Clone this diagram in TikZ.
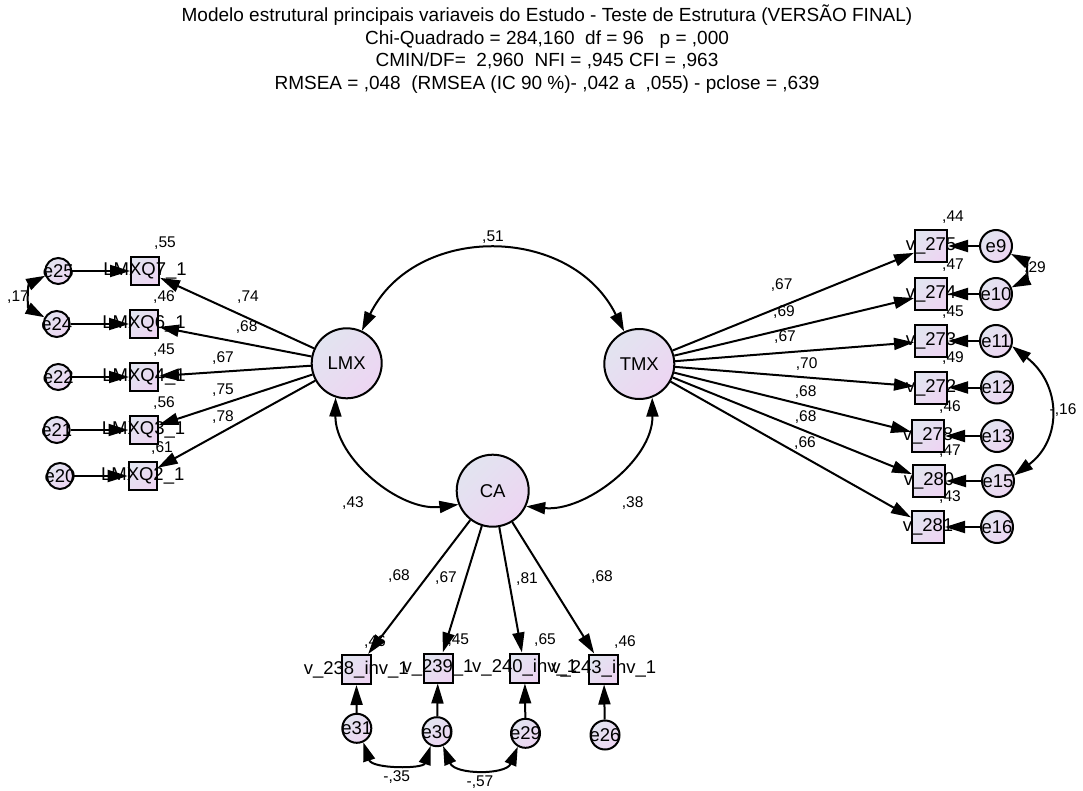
\documentclass[tikz,border=0pt]{standalone}
\usepackage{fontspec}
\setmainfont{Liberation Sans}
\usetikzlibrary{arrows.meta}
\definecolor{fillA}{RGB}{226,228,240}
\definecolor{fillB}{RGB}{237,213,242}
\tikzset{
  shadefill/.style={top color=fillA, bottom color=fillB, shading angle=45},
  lat/.style={circle, draw, line width=2pt, minimum size=70pt, inner sep=0pt, shadefill, font=\fontsize{18.5}{20}\selectfont},
  errc/.style={circle, draw, line width=2pt, minimum size=26pt, inner sep=0pt, shadefill, font=\fontsize{18.5}{20}\selectfont},
  obs/.style={rectangle, draw, line width=2pt, minimum size=28pt, inner sep=0pt, shadefill, font=\fontsize{18.5}{20}\selectfont},
  arr/.style={-{Triangle[length=20pt,width=12pt]}, line width=2pt},
  cov/.style={{Triangle[length=19pt,width=12pt]}-{Triangle[length=19pt,width=12pt]}, line width=2pt},
  val/.style={font=\fontsize{15.5}{17}\selectfont, inner sep=0pt},
  ttl/.style={font=\fontsize{19}{21}\selectfont, inner sep=0pt, anchor=base}
}
\newcommand{\zb}[1]{\makebox[0pt]{#1}}
\begin{document}
\begin{tikzpicture}[x=1pt,y=-1pt]
\useasboundingbox (0,0) rectangle (1083,791);
% title
\node[ttl] (t1) at (547,21.7) {Modelo estrutural principais variaveis do Estudo - Teste de Estrutura (VERSÃO FINAL)};
\node[ttl] (t2) at (547,44.3) {Chi-Quadrado = 284,160\ \ df = 96\ \ \ p = ,000};
\node[ttl] (t3) at (547,66.9) {CMIN/DF=\ \ 2,960\ \ NFI = ,945 CFI = ,963};
\node[ttl] (t4) at (547,89.5) {RMSEA = ,048\ \ (RMSEA (IC 90 \%)- ,042 a\ \ ,055) - pclose = ,639};
% latent
\node[lat] (LMX) at (346.7,363.3) {LMX};
\node[lat] (TMX) at (639.3,364) {TMX};
\node[lat, minimum size=72pt] (CA) at (492.7,490.7) {CA};
% left indicators
\node[obs] (q7) at (145,271) {\zb{LMXQ7\_1}};
\node[obs] (q6) at (144,324) {\zb{LMXQ6\_1}};
\node[obs] (q4) at (144,377) {\zb{LMXQ4\_1}};
\node[obs] (q3) at (143.5,430) {\zb{LMXQ3\_1}};
\node[obs] (q2) at (142.7,476) {\zb{LMXQ2\_1}};
\node[errc] (e25) at (58.3,271) {\zb{e25}};
\node[errc] (e24) at (56.7,324) {\zb{e24}};
\node[errc] (e22) at (58.3,377) {\zb{e22}};
\node[errc] (e21) at (56.7,430) {\zb{e21}};
\node[errc] (e20) at (60,476) {\zb{e20}};
% right indicators
\node[obs, minimum size=32pt] (v275) at (931,246) {\zb{v\_275}};
\node[obs, minimum size=32pt] (v274) at (931,294) {\zb{v\_274}};
\node[obs, minimum size=32pt] (v273) at (931,341) {\zb{v\_273}};
\node[obs, minimum size=32pt] (v272) at (931,387.5) {\zb{v\_272}};
\node[obs, minimum size=32pt] (v278) at (928,436) {\zb{v\_278}};
\node[obs, minimum size=32pt] (v280) at (929,481) {\zb{v\_280}};
\node[obs, minimum size=32pt] (v281) at (928,527) {\zb{v\_281}};
\node[errc, minimum size=32pt] (e9) at (996,246) {\zb{e9}};
\node[errc, minimum size=32pt] (e10) at (996,294) {\zb{e10}};
\node[errc, minimum size=32pt] (e11) at (996,341) {\zb{e11}};
\node[errc, minimum size=32pt] (e12) at (997,387.5) {\zb{e12}};
\node[errc, minimum size=32pt] (e13) at (997,436) {\zb{e13}};
\node[errc, minimum size=32pt] (e15) at (998,481) {\zb{e15}};
\node[errc, minimum size=32pt] (e16) at (997,527) {\zb{e16}};
% bottom indicators
\node[obs, minimum size=29pt] (b238) at (356.3,669.5) {\zb{v\_238\_inv\_1}};
\node[obs, minimum size=29pt] (b239) at (438,668) {\zb{v\_239\_1}};
\node[obs, minimum size=29pt] (b240) at (524.7,668) {\zb{v\_240\_inv\_1}};
\node[obs, minimum size=29pt] (b243) at (603.8,669) {\zb{v\_243\_inv\_1}};
\node[errc, minimum size=29pt] (e31) at (356.8,728.3) {\zb{e31}};
\node[errc, minimum size=29pt] (e30) at (437,731.7) {\zb{e30}};
\node[errc, minimum size=29pt] (e29) at (525.5,733.3) {\zb{e29}};
\node[errc, minimum size=29pt] (e26) at (605,735) {\zb{e26}};
% loadings LMX
\foreach \b in {q7,q6,q4,q3,q2} \draw[arr] (LMX) -- (\b);
\foreach \e/\b in {e25/q7,e24/q6,e22/q4,e21/q3,e20/q2} \draw[arr] (\e) -- (\b);
% loadings TMX
\foreach \b in {v275,v274,v273,v272,v278,v280,v281} \draw[arr] (TMX) -- (\b);
\foreach \e/\b in {e9/v275,e10/v274,e11/v273,e12/v272,e13/v278,e15/v280,e16/v281} \draw[arr] (\e) -- (\b);
% loadings CA
\foreach \b in {b238,b239,b240,b243} \draw[arr] (CA) -- (\b);
\foreach \e/\b in {e31/b238,e30/b239,e29/b240,e26/b243} \draw[arr] (\e) -- (\b);
% covariances
\draw[cov] (LMX.65) .. controls (415,223) and (571,224) .. (TMX.115);
\draw[cov] (LMX.252) .. controls (335,458) and (400,512) .. (CA.202);
\draw[cov] (TMX.291) .. controls (653,460) and (585,512) .. (CA.335);
\draw[cov] (e25.200) .. controls (27.5,285) and (27.5,308) .. (e24.151);
\draw[cov] (e9.332) .. controls (1027,262) and (1027,280) .. (e10.23);
\draw[cov] (e11.342) .. controls (1062,385) and (1062,440) .. (e15.19);
\draw[cov] (e31.295) .. controls (372,769) and (423,769) .. (e30.246);
\draw[cov] (e30.293) .. controls (455,775) and (506,775) .. (e29.240);
% covariance values
\node[val] (c51) at (493,237) {,51};
\node[val] (c43) at (353,503) {,43};
\node[val] (c38) at (632.7,503) {,38};
\node[val] (c17) at (18,296.7) {,17};
\node[val] (c29) at (1035,268.3) {,29};
\node[val] (c16) at (1063,410) {-,16};
\node[val] (c35) at (396.7,776.7) {-,35};
\node[val] (c57) at (480,781.7) {-,57};
% left values
\node[val] (r7) at (165,243) {,55};
\node[val] (r6) at (164,297) {,46};
\node[val] (r4) at (164,350) {,45};
\node[val] (r3) at (164,403) {,56};
\node[val] (r2) at (162,448) {,61};
\node[val] (l7) at (248,296.7) {,74};
\node[val] (l6) at (246.7,326.7) {,68};
\node[val] (l4) at (223,358) {,67};
\node[val] (l3) at (223,390) {,75};
\node[val] (l2) at (223,416.7) {,78};
% right values
\node[val] (r275) at (953,216.7) {,44};
\node[val] (r274) at (953,265) {,47};
\node[val] (r273) at (953,311.7) {,45};
\node[val] (r272) at (953,358.3) {,49};
\node[val] (r278) at (950,406.7) {,46};
\node[val] (r280) at (950,450.7) {,47};
\node[val] (r281) at (950,496.7) {,43};
\node[val] (m275) at (781.7,285) {,67};
\node[val] (m274) at (784,311.7) {,69};
\node[val] (m273) at (785,337.3) {,67};
\node[val] (m272) at (806.7,364) {,70};
\node[val] (m278) at (805.7,391.7) {,68};
\node[val] (m280) at (805.7,416.7) {,68};
\node[val] (m281) at (805,442.7) {,66};
% bottom values
\node[val] (r238) at (375,641.7) {,46};
\node[val] (r239) at (458.3,640) {,45};
\node[val] (r240) at (545,640) {,65};
\node[val] (r243) at (625,641.7) {,46};
\node[val] (k238) at (399,576) {,68};
\node[val] (k239) at (446,578) {,67};
\node[val] (k240) at (527,579) {,81};
\node[val] (k243) at (602,577) {,68};
\end{tikzpicture}
\end{document}
